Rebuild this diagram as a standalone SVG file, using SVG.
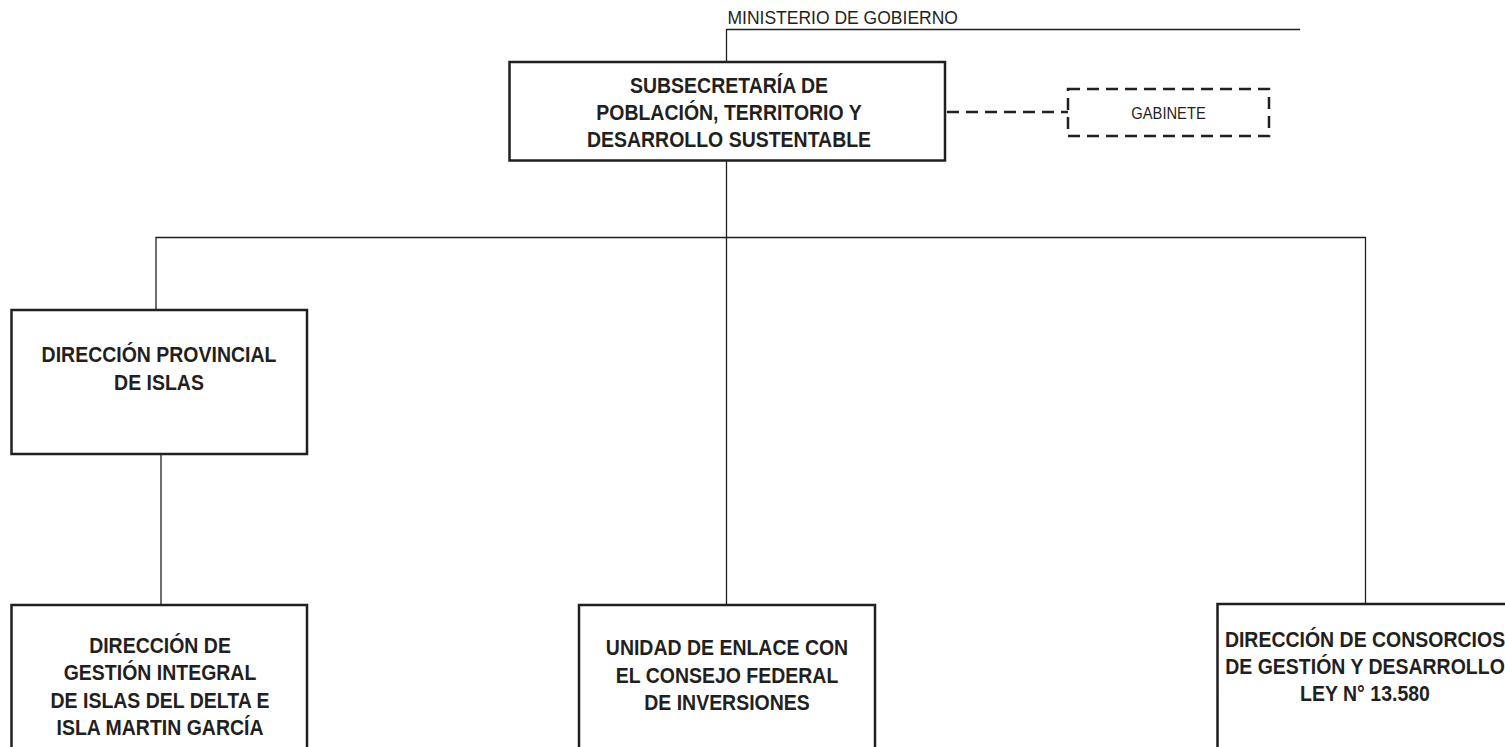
<svg xmlns="http://www.w3.org/2000/svg" width="1505" height="747" viewBox="0 0 1505 747">
<style>
.box{fill:#fff;stroke:#231f20;stroke-width:2.5}
.dbox{fill:#fff;stroke:#231f20;stroke-width:2.5;stroke-dasharray:12 7}
.ln{fill:none;stroke:#231f20;stroke-width:1.3}
.dln{fill:none;stroke:#231f20;stroke-width:2.5;stroke-dasharray:12 7}
.b{font-family:"Liberation Sans",Arial,sans-serif;font-weight:bold;font-size:22px;fill:#231f20;text-anchor:middle}
.r{font-family:"Liberation Sans",Arial,sans-serif;font-size:17.5px;fill:#231f20}
</style>
<rect width="1505" height="747" fill="#fff"/>
<g id="connectors">
<polyline class="ln" points="1300,29.5 726.5,29.5 726.5,62"/>
<line class="ln" x1="726.5" y1="160" x2="726.5" y2="605"/>
<polyline class="ln" points="156,310 156,237.5 1365.5,237.5 1365.5,604"/>
<line class="ln" x1="161" y1="454" x2="161" y2="605"/>
<line class="dln" x1="947" y1="112" x2="1068" y2="112"/>
</g>
<text id="ministerio" class="r" x="727.5" y="24">MINISTERIO DE GOBIERNO</text>
<g id="subsecretaria">
<rect class="box" x="509.5" y="62" width="435.5" height="98.5"/>
<g transform="translate(729,0) scale(0.886,1)">
<text class="b" x="0" y="93">SUBSECRETARÍA DE</text>
<text class="b" x="0" y="120">POBLACIÓN, TERRITORIO Y</text>
<text class="b" x="0" y="147">DESARROLLO SUSTENTABLE</text>
</g>
</g>
<g id="gabinete">
<rect class="dbox" x="1068" y="89" width="201" height="47"/>
<text class="r" transform="translate(1168.5,119) scale(0.92,1)" x="0" y="0" style="font-size:16px;text-anchor:middle">GABINETE</text>
</g>
<g id="dir-prov-islas">
<rect class="box" x="11.5" y="310" width="295.5" height="144"/>
<g transform="translate(159,0) scale(0.886,1)">
<text class="b" x="0" y="362">DIRECCIÓN PROVINCIAL</text>
<text class="b" x="0" y="390">DE ISLAS</text>
</g>
</g>
<g id="dir-gestion-islas">
<rect class="box" x="11.5" y="605" width="295.5" height="160"/>
<g transform="translate(160,0) scale(0.886,1)">
<text class="b" x="0" y="653">DIRECCIÓN DE</text>
<text class="b" x="0" y="680.5">GESTIÓN INTEGRAL</text>
<text class="b" x="0" y="708">DE ISLAS DEL DELTA E</text>
<text class="b" x="0" y="735.5">ISLA MARTIN GARCÍA</text>
</g>
</g>
<g id="unidad-enlace">
<rect class="box" x="579" y="605" width="296" height="160"/>
<g transform="translate(727,0) scale(0.886,1)">
<text class="b" x="0" y="655.5">UNIDAD DE ENLACE CON</text>
<text class="b" x="0" y="683">EL CONSEJO FEDERAL</text>
<text class="b" x="0" y="710">DE INVERSIONES</text>
</g>
</g>
<g id="dir-consorcios">
<rect class="box" x="1217.5" y="604" width="300" height="160"/>
<g transform="translate(1365,0) scale(0.886,1)">
<text class="b" x="0" y="647.5">DIRECCIÓN DE CONSORCIOS</text>
<text class="b" x="0" y="674.5">DE GESTIÓN Y DESARROLLO</text>
<text class="b" x="0" y="701.5">LEY N° 13.580</text>
</g>
</g>
</svg>
